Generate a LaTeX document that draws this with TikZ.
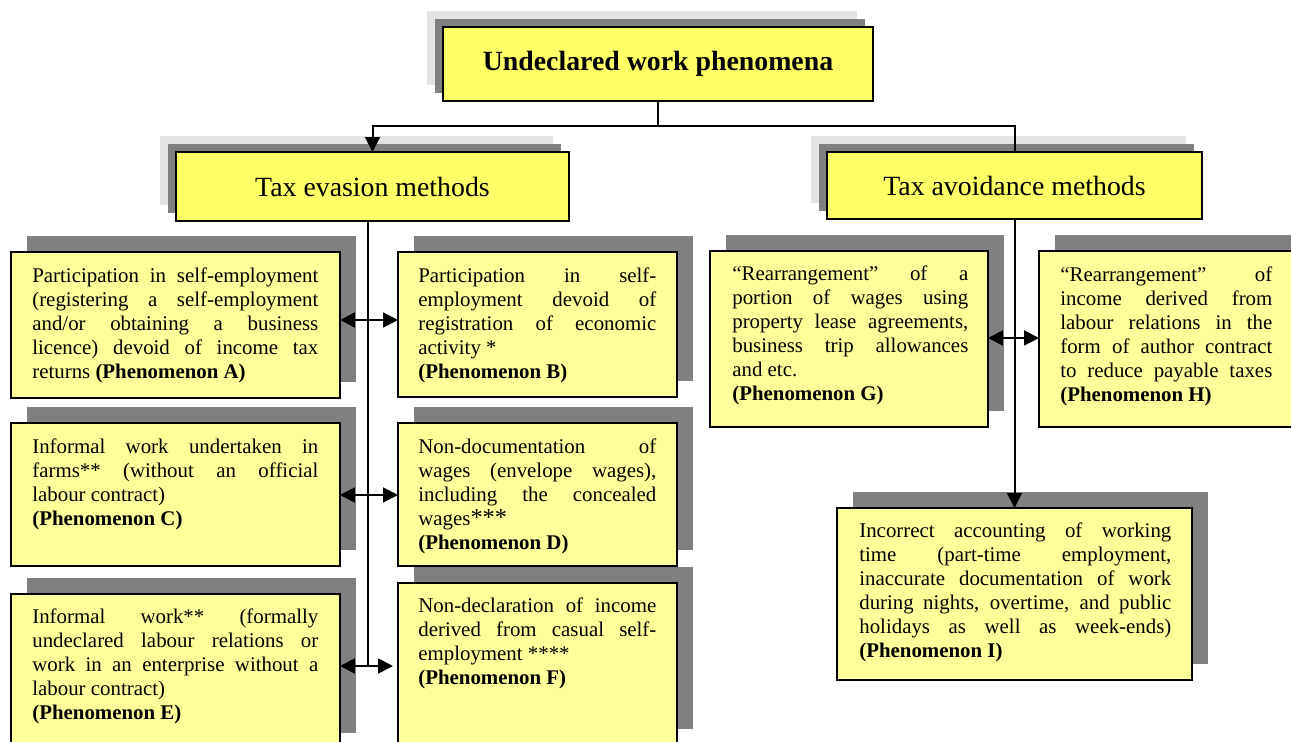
\documentclass[tikz,border=0pt]{standalone}
\usepackage{fontspec}
\setmainfont{Liberation Serif}
\usetikzlibrary{arrows.meta,shadows}
\definecolor{titleyellow}{HTML}{FFFF66}
\definecolor{boxyellow}{HTML}{FFFF99}
\definecolor{shadowdark}{HTML}{808080}
\definecolor{shadowlight}{HTML}{E3E3E3}
\def\px{0.575pt}
\begin{document}
\begin{tikzpicture}[x=0.575pt,y=-0.575pt,
  titlebox/.style={draw=black, line width=1.1pt, fill=titleyellow, inner sep=0pt, outer sep=0pt, anchor=north west,
    general shadow={fill=shadowlight, shadow xshift=-9.2pt, shadow yshift=9.2pt},
    general shadow={fill=shadowdark, shadow xshift=-4.6pt, shadow yshift=4.6pt}},
  phbox/.style={draw=black, line width=1pt, fill=boxyellow, inner sep=0pt, outer sep=0pt, anchor=north west,
    general shadow={fill=shadowdark, shadow xshift=9.2pt, shadow yshift=9.2pt}},
  txt/.style={font={\fontsize{12}{13.8}\selectfont\hyphenpenalty=10000\exhyphenpenalty=10000\tolerance=10000\emergencystretch=0pt},
    align=justify, inner sep=0pt, anchor=base west},
  ttl/.style={font=\fontsize{16}{18}\selectfont, inner sep=0pt},
  line/.style={draw=black, line width=1.15pt},
  arr/.style={line, -{Triangle[length=8.5pt,width=8.5pt]}},
  dbl/.style={line, {Triangle[length=8.5pt,width=8.5pt]}-{Triangle[length=8.5pt,width=8.5pt]}}
]
\useasboundingbox (0,0) rectangle (1291,742);
\clip (0,0) rectangle (1291,742);

% title boxes
\node[titlebox, minimum width=430*\px, minimum height=74*\px] (U) at (443,27) {};
\node[ttl, font=\fontsize{16}{18}\selectfont\bfseries] (Ut) at (U.center) {Undeclared work phenomena};
\node[titlebox, minimum width=393*\px, minimum height=69*\px] (T) at (176,152) {};
\node[ttl] (Tt) at (T.center) {Tax evasion methods};
\node[titlebox, minimum width=375*\px, minimum height=67*\px] (V) at (827,152) {};
\node[ttl] (Vt) at (V.center) {Tax avoidance methods};

% phenomenon boxes
\node[phbox, minimum width=329*\px, minimum height=146*\px] (A) at (11,252) {};
\node[phbox, minimum width=279*\px, minimum height=145*\px] (B) at (398,252) {};
\node[phbox, minimum width=329*\px, minimum height=143*\px] (C) at (11,423) {};
\node[phbox, minimum width=279*\px, minimum height=143*\px] (D) at (398,423) {};
\node[phbox, minimum width=329*\px, minimum height=155*\px] (E) at (11,594) {};
\node[phbox, minimum width=279*\px, minimum height=162*\px] (F) at (398,583) {};
\node[phbox, minimum width=278*\px, minimum height=176*\px] (G) at (710,251) {};
\node[phbox, minimum width=270*\px, minimum height=176*\px] (H) at (1039,251) {};
\node[phbox, minimum width=355*\px, minimum height=172*\px] (I) at (837,508) {};

% texts
\node[txt, text width=286*\px] (At) at (32,283) {Participation in self-employment\linebreak (registering a self-employment\linebreak and/or obtaining a business\linebreak licence) devoid of income tax\linebreak returns \textbf{(Phenomenon A)}};
\node[txt, text width=238*\px] (Bt) at (418,283) {Participation in self-\linebreak employment devoid of\linebreak registration of economic\linebreak activity *\\\textbf{(Phenomenon B)}};
\node[txt, text width=286*\px] (Ct) at (32,454) {Informal work undertaken in\linebreak farms** (without an official\linebreak labour contract)\\\textbf{(Phenomenon C)}};
\node[txt, text width=238*\px] (Dt) at (418,454) {Non-documentation of\linebreak wages (envelope wages),\linebreak including the concealed\linebreak wages{\fontsize{14}{13.8}\selectfont***}\\\textbf{(Phenomenon D)}};
\node[txt, text width=286*\px] (Et) at (32,624) {Informal work** (formally\linebreak undeclared labour relations or\linebreak work in an enterprise without a\linebreak labour contract)\\\textbf{(Phenomenon E)}};
\node[txt, text width=238*\px] (Ft) at (418,613) {Non-declaration of income\linebreak derived from casual self-\linebreak employment ****\\\textbf{(Phenomenon F)}};
\node[txt, text width=236*\px] (Gt) at (732,281) {“Rearrangement” of a\linebreak portion of wages using\linebreak property lease agreements,\linebreak business trip allowances\linebreak and etc.\\\textbf{(Phenomenon G)}};
\node[txt, text width=212*\px] (Ht) at (1060,282) {“Rearrangement” of\linebreak income derived from\linebreak labour relations in the\linebreak form of author contract\linebreak to reduce payable taxes\linebreak \textbf{(Phenomenon H)}};
\node[txt, text width=312*\px] (It) at (859,538) {Incorrect accounting of working\linebreak time (part-time employment,\linebreak inaccurate documentation of work\linebreak during nights, overtime, and public\linebreak holidays as well as week-ends)\linebreak \textbf{(Phenomenon I)}};

% connectors
\coordinate (junc) at (658,126);
\coordinate (spineEnd) at (368,666);
\coordinate (rowAB) at (368,320);
\coordinate (rowCD) at (368,495);
\coordinate (rowGH) at (1014,338);
\draw[line] (U.south) -- (junc);
\draw[arr] (junc) -| (T.north);
\draw[line] (junc) -| (V.north);
\draw[line] (T.south -| spineEnd) -- (spineEnd);
\draw[dbl] (A.east |- rowAB) -- (B.west |- rowAB);
\draw[dbl] (C.east |- rowCD) -- (D.west |- rowCD);
\draw[arr] (spineEnd) -- (E.east |- spineEnd);
\draw[arr, shorten >=5*\px] (spineEnd) -- (F.west |- spineEnd);
\draw[arr] (V.south) -- (I.north);
\draw[dbl] (G.east |- rowGH) -- (H.west |- rowGH);
\end{tikzpicture}
\end{document}
